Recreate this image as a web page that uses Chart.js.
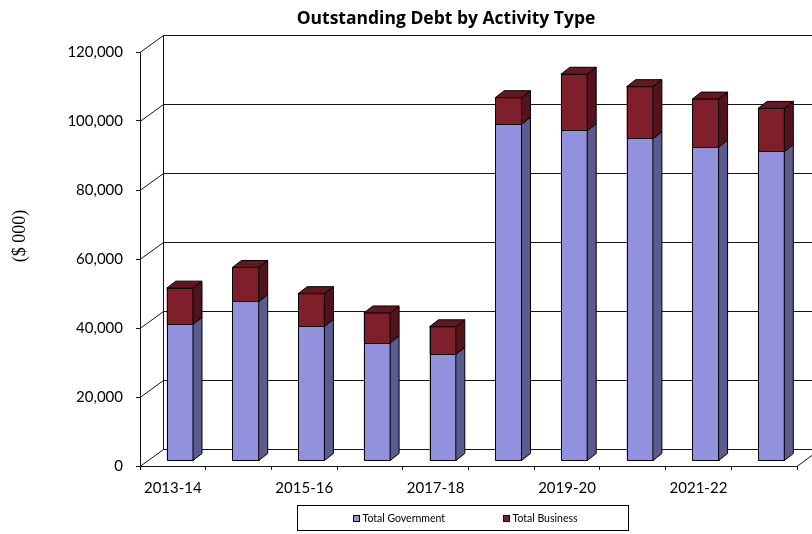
<!DOCTYPE html>
<html>
<head>
<meta charset="utf-8">
<title>Outstanding Debt by Activity Type</title>
<script src="https://cdn.jsdelivr.net/npm/chart.js@4"></script>
<style>
  html, body { margin: 0; padding: 0; background: #ffffff; }
  #wrap { width: 812px; height: 534px; }
</style>
</head>
<body>
<div id="wrap"><canvas id="debtChart" width="812" height="534"></canvas></div>
<script>
// ---- data ($ 000) ----
const categories = ['2013-14', '2014-15', '2015-16', '2016-17', '2017-18',
                    '2018-19', '2019-20', '2020-21', '2021-22', '2022-23'];
const governmentDebt = [39600, 46200, 39000, 34200, 30900, 97600, 95700, 93400, 91000, 89700];
const businessDebt   = [10500,  9900,  9500,  8700,  8000,  7700, 16400, 15100, 13900, 12500];
const seriesNames = ['Total Government', 'Total Business'];
const yTickValues = [0, 20000, 40000, 60000, 80000, 100000, 120000];
const chartTitle = 'Outstanding Debt by Activity Type';
const yAxisTitle = '($ 000)';

// ---- look ----
const faceColors = [
  { front: '#9191dd', side: '#5b5b8f', top: '#7373b8' },
  { front: '#7e1f2b', side: '#53131c', top: '#64171f' }
];
const WALL = { dx: 23, dy: -17 };   // depth of the back wall
const COL = { dx: 9, dy: -7 };      // depth of each column
const SHIFT = { dx: 7, dy: -5 };    // columns stand a little behind the front axis
const LINE = '#141414';

Chart.defaults.font.family = 'Lato, "Liberation Sans", sans-serif';
Chart.defaults.color = '#000000';

function fillPoly(ctx, pts, color) {
  ctx.beginPath();
  ctx.moveTo(pts[0][0], pts[0][1]);
  for (let i = 1; i < pts.length; i++) ctx.lineTo(pts[i][0], pts[i][1]);
  ctx.closePath();
  ctx.fillStyle = color;
  ctx.fill();
  ctx.stroke();
}

// walls, floor, column depth and the free-standing texts
const depthPlugin = {
  id: 'depth3d',
  beforeDatasetsDraw(chart) {
    const { ctx, chartArea: a, scales: { x, y } } = chart;
    ctx.save();
    ctx.strokeStyle = LINE;
    ctx.lineWidth = 1;
    const bx = Math.round(a.left + WALL.dx) + 0.5;
    ctx.beginPath();
    y.ticks.forEach(t => {
      const py = Math.round(y.getPixelForValue(t.value)) + 0.5;
      ctx.moveTo(a.left, py);
      ctx.lineTo(bx, py + WALL.dy);
      ctx.lineTo(chart.width, py + WALL.dy);
    });
    ctx.moveTo(bx, Math.round(y.getPixelForValue(y.max)) + 0.5 + WALL.dy);
    ctx.lineTo(bx, Math.round(y.getPixelForValue(0)) + 0.5 + WALL.dy);
    ctx.moveTo(a.right, Math.round(a.bottom) + 0.5);
    ctx.lineTo(a.right + WALL.dx, Math.round(a.bottom) + 0.5 + WALL.dy);
    ctx.stroke();
    ctx.restore();

    ctx.save();
    ctx.translate(SHIFT.dx, SHIFT.dy);
  },
  afterDatasetsDraw(chart) {
    const ctx = chart.ctx;
    const metas = chart.getSortedVisibleDatasetMetas();
    ctx.strokeStyle = '#000000';
    ctx.lineWidth = 1;
    ctx.lineJoin = 'round';
    metas.forEach((meta, di) => {
      const col = faceColors[meta.index];
      meta.data.forEach(bar => {
        const p = bar.getProps(['x', 'y', 'base', 'width'], true);
        const l = p.x - p.width / 2, r = p.x + p.width / 2;
        // crisp outline of the front face, laid over the seam between segments
        const top = Math.floor(p.y), bottom = Math.floor(p.base);
        ctx.strokeRect(Math.round(l) + 0.5, top + 0.5,
                       Math.round(r) - Math.round(l), bottom - top);
        fillPoly(ctx, [[r, p.y], [r + COL.dx, p.y + COL.dy],
                       [r + COL.dx, p.base + COL.dy], [r, p.base]], col.side);
        if (di === metas.length - 1) {
          fillPoly(ctx, [[l, p.y], [l + COL.dx, p.y + COL.dy],
                         [r + COL.dx, p.y + COL.dy], [r, p.y]], col.top);
        }
      });
    });
    ctx.restore();
  },
  afterDraw(chart) {
    const ctx = chart.ctx;
    ctx.save();
    // title
    ctx.fillStyle = '#000000';
    ctx.font = 'bold 17.5px "Open Sans", Lato, sans-serif';
    ctx.textAlign = 'center';
    ctx.textBaseline = 'alphabetic';
    ctx.fillText(chartTitle, 446, 24);

    // y axis title
    ctx.save();
    ctx.translate(20, 236);
    ctx.rotate(-Math.PI / 2);
    ctx.font = '18px "Liberation Serif", "DejaVu Serif", serif';
    ctx.textBaseline = 'middle';
    ctx.fillText(yAxisTitle, 0, 0);
    ctx.restore();

    // legend box
    ctx.strokeStyle = '#000000';
    ctx.lineWidth = 1;
    ctx.strokeRect(297.5, 505.5, 331, 25);
    const itemX = [353, 503];
    ctx.font = '10.5px Lato, "Liberation Sans", sans-serif';
    ctx.textAlign = 'left';
    ctx.textBaseline = 'middle';
    chart.data.datasets.forEach((ds, i) => {
      ctx.fillStyle = ds.backgroundColor;
      ctx.fillRect(itemX[i] + 0.5, 515.5, 6, 6);
      ctx.strokeStyle = '#000000';
      ctx.strokeRect(itemX[i] + 0.5, 515.5, 6, 6);
      ctx.fillStyle = '#000000';
      ctx.fillText(ds.label, itemX[i] + 9.5, 518.5);
    });
    ctx.restore();
  }
};

new Chart(document.getElementById('debtChart'), {
  type: 'bar',
  data: {
    labels: categories,
    datasets: [
      {
        label: seriesNames[0],
        data: governmentDebt,
        backgroundColor: faceColors[0].front,
        borderColor: '#000000',
        borderWidth: 0,
        barPercentage: 0.4,
        categoryPercentage: 1.0
      },
      {
        label: seriesNames[1],
        data: businessDebt,
        backgroundColor: faceColors[1].front,
        borderColor: '#000000',
        borderWidth: 0,
        barPercentage: 0.4,
        categoryPercentage: 1.0
      }
    ]
  },
  options: {
    responsive: false,
    animation: false,
    devicePixelRatio: 1,
    layout: { padding: { top: 52, right: 15, bottom: 0, left: 0 } },
    plugins: {
      legend: { display: false },
      title: { display: false },
      tooltip: { enabled: false }
    },
    scales: {
      x: {
        stacked: true,
        offset: true,
        afterFit(scale) { scale.height = 68; },
        grid: { display: true, drawOnChartArea: false, drawTicks: true, tickLength: 4, color: LINE, offset: true },
        border: { display: true, color: LINE, width: 1 },
        ticks: {
          autoSkip: false,
          maxRotation: 0,
          padding: 9,
          font: { size: 15 },
          callback: (v, i) => (i % 2 === 0 ? categories[i] : '')
        }
      },
      y: {
        stacked: true,
        min: 0,
        max: 120000,
        afterFit(scale) { scale.width = 140; },
        afterBuildTicks(scale) { scale.ticks = yTickValues.map(v => ({ value: v })); },
        grid: { display: true, drawOnChartArea: false, drawTicks: true, tickLength: 4, color: LINE },
        border: { display: true, color: LINE, width: 1 },
        ticks: {
          padding: 13,
          font: { size: 15 },
          callback: v => v.toLocaleString('en-US')
        }
      }
    }
  },
  plugins: [depthPlugin]
});
</script>
</body>
</html>
